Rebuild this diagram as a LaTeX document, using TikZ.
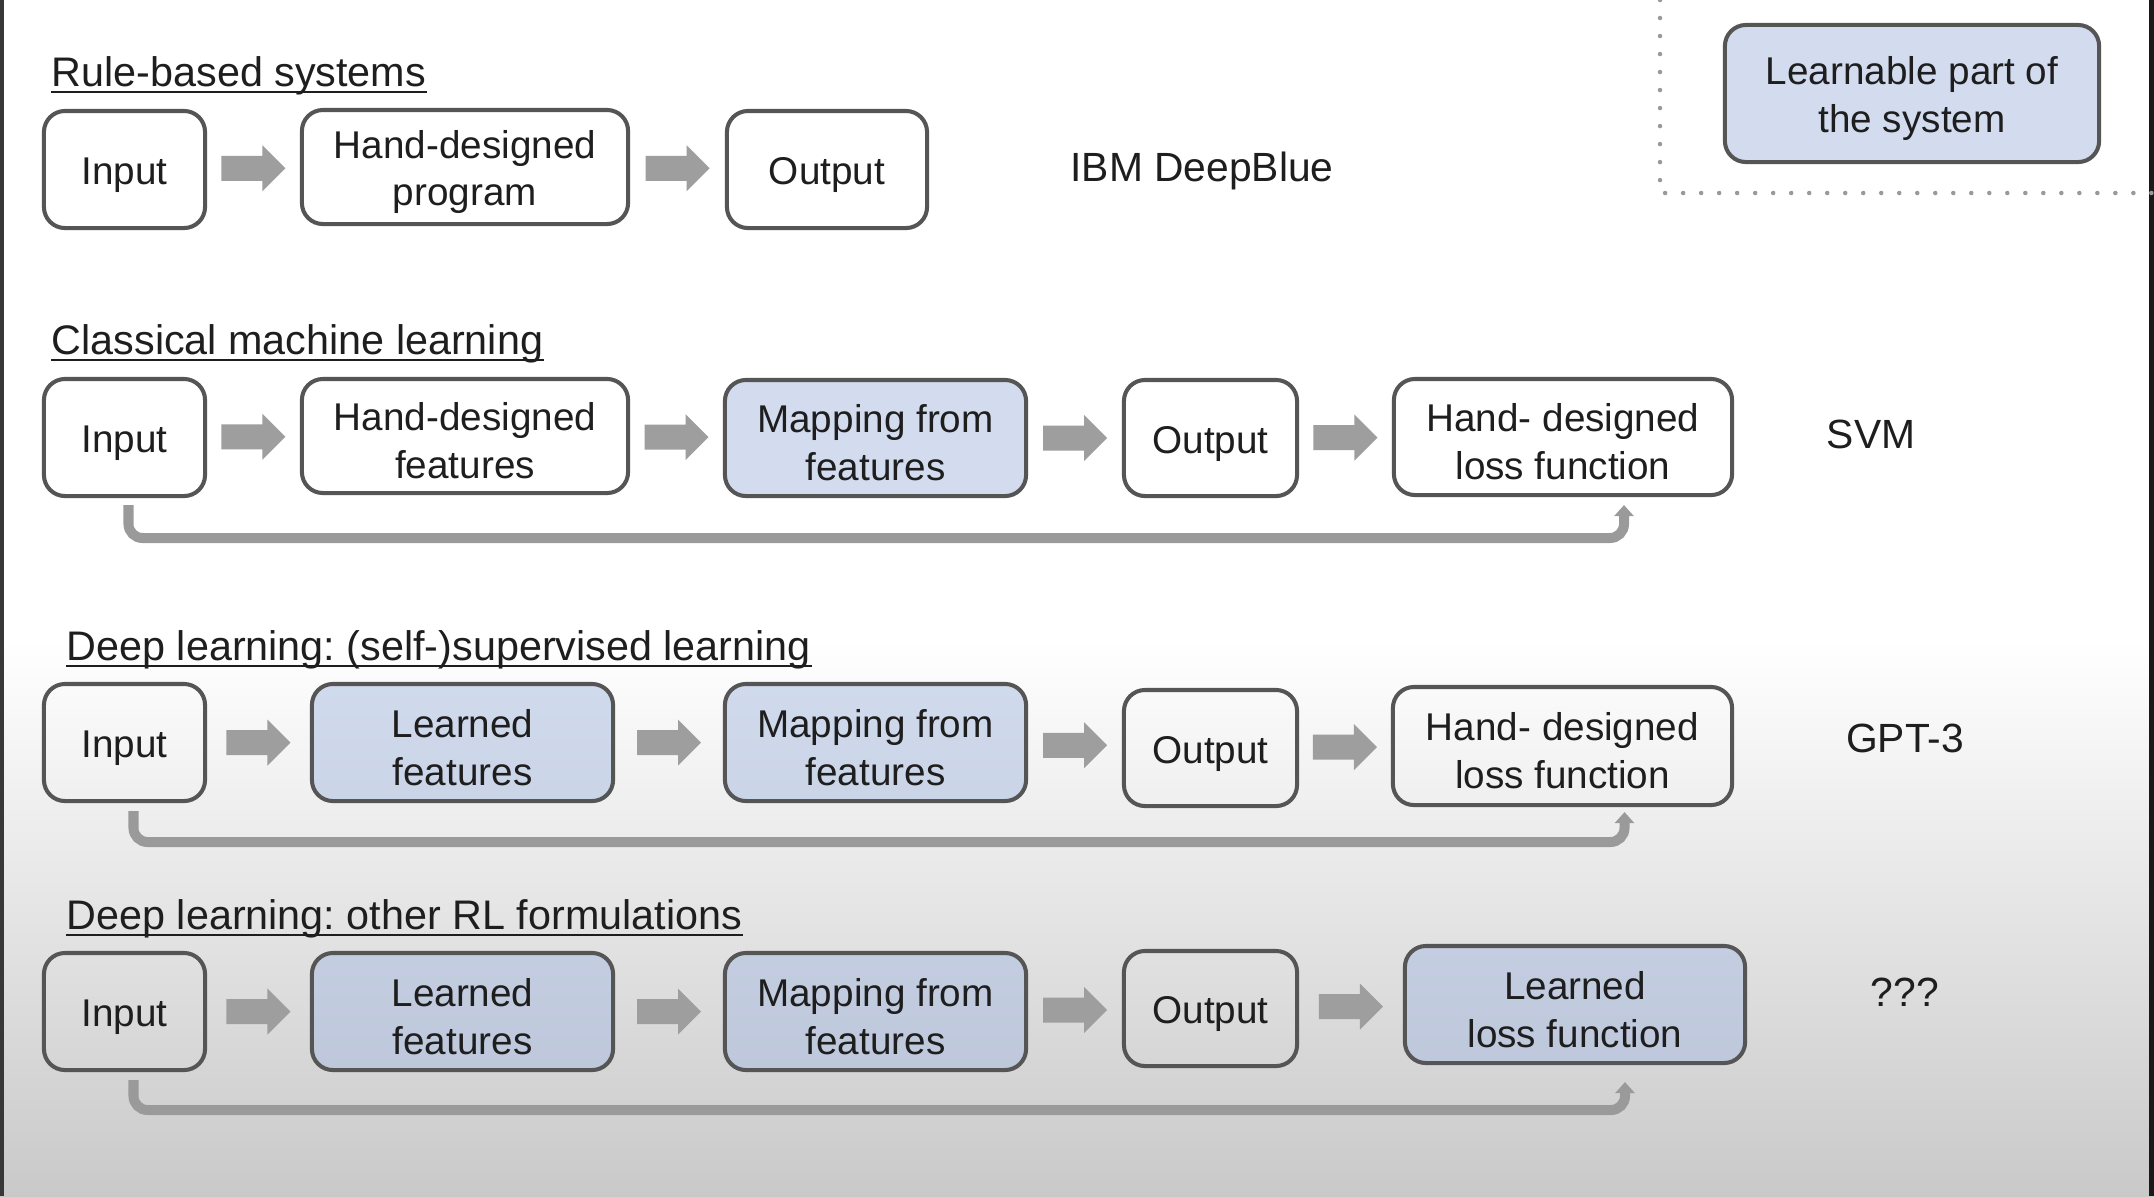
\documentclass[tikz,border=0pt]{standalone}
\usepackage{fontspec}
\setmainfont{Liberation Sans}
\usetikzlibrary{calc,arrows.meta}
\frenchspacing
\definecolor{edge}{HTML}{555555}
\definecolor{txt}{HTML}{1E1E1E}
\definecolor{lrn}{RGB}{168,187,225}
\definecolor{agray}{HTML}{9E9E9E}
\definecolor{fbgray}{HTML}{9A9A9A}
\definecolor{bggray}{HTML}{C9C9C9}
\newcommand{\boxfont}{\fontsize{11}{13.6}\selectfont\frenchspacing}
\newcommand{\titlefont}{\fontsize{11.75}{14}\selectfont\frenchspacing}
\newcommand{\lblfont}{\fontsize{11.6}{14}\selectfont}
\newcommand{\blockarr}[2]{%
  \path ($(#1.east)!0.5!(#2.west)$) coordinate (bm);
  \fill[agray] ($(bm)+(-32,-12.5)$) -- ($(bm)+(9,-12.5)$) -- ($(bm)+(9,-23)$) -- ($(bm)+(32,0)$)
     -- ($(bm)+(9,23)$) -- ($(bm)+(9,12.5)$) -- ($(bm)+(-32,12.5)$) -- cycle;}
\begin{document}
\begin{tikzpicture}[x=0.01cm,y=-0.01cm,
  box/.style={draw=edge, line width=1.15pt, rounded corners=0.21cm, align=center,
    inner sep=0pt, text=txt, font=\boxfont},
  one/.style={execute at begin node={\rule{0pt}{10.9pt}}},
  two/.style={execute at begin node={\rule{0pt}{24.4pt}}},
  lbox/.style={box, fill=lrn, fill opacity=0.5, text opacity=1, draw opacity=1},
  titletxt/.style={inner sep=0pt, anchor=base west, text=txt, font=\titlefont},
  uline/.style={draw=txt, line width=0.65pt},
  lbl/.style={inner sep=0pt, text=txt, font=\lblfont},
  fb/.style={draw=fbgray, line width=0.1cm, rounded corners=0.14cm,
    -{Triangle[width=0.19cm,length=0.11cm]}},
  dots/.style={draw=gray!80, line width=0.045cm, line cap=round, dash pattern=on 0pt off 0.18cm}]
\useasboundingbox (0,0) rectangle (2154,1196);
% background
\fill[white] (0,0) rectangle (2154,1196);
\shade[top color=white, bottom color=bggray] (0,640) rectangle (2154,1196);
\fill[black!78] (0,0) rectangle (4,1196);
\fill[black!90] (2149,0) rectangle (2154,1196);

% legend
\draw[dots] (1660,0) -- (1660,193) -- (2154,193);
\node[lbox, two, minimum width=3.74cm, minimum height=1.37cm] (leg) at (1912,93.5) {Learnable part of\\the system};

% ---------- Row 1
\node[titletxt] (t1) at (51,86) {Rule-based systems};
\draw[uline] ($(t1.base west)+(0,6)$) -- ($(t1.base east)+(0,6)$);
\node[box, one, minimum width=1.61cm, minimum height=1.17cm] (in1) at (124.5,169.5) {Input};
\node[box, two, minimum width=3.26cm, minimum height=1.14cm] (hp1) at (465,167) {Hand-designed\\program};
\node[box, one, minimum width=2.00cm, minimum height=1.17cm] (out1) at (827,169.5) {Output};
\node[lbl] (ibm) at (1202,171) {IBM DeepBlue};
\blockarr{in1}{hp1}
\blockarr{hp1}{out1}

% ---------- Row 2
\node[titletxt] (t2) at (51,354) {Classical machine learning};
\draw[uline] ($(t2.base west)+(0,6)$) -- ($(t2.base east)+(0,6)$);
\node[box, one, minimum width=1.61cm, minimum height=1.17cm] (in2) at (124.5,437.5) {Input};
\node[box, two, minimum width=3.26cm, minimum height=1.14cm] (hf2) at (465,436) {Hand-designed\\features};
\node[lbox, two, minimum width=3.01cm, minimum height=1.16cm] (mp2) at (875.5,438) {Mapping from\\features};
\node[box, one, minimum width=1.73cm, minimum height=1.16cm] (out2) at (1210.5,438) {Output};
\node[box, two, minimum width=3.38cm, minimum height=1.16cm] (loss2) at (1563,437) {Hand- designed\\loss function};
\node[lbl] (svm) at (1871,434) {SVM};
\blockarr{in2}{hf2}
\blockarr{hf2}{mp2}
\blockarr{mp2}{out2}
\blockarr{out2}{loss2}
\coordinate (tip2) at ($(loss2.south)+(61,8)$);
\coordinate (lvl2) at (0,538);
\draw[fb] ($(in2.south)+(4,7)$) |- (tip2 |- lvl2) -- (tip2);

% ---------- Row 3
\node[titletxt] (t3) at (66,660) {Deep learning: (self-)supervised learning};
\draw[uline] ($(t3.base west)+(0,6)$) -- ($(t3.base east)+(0,6)$);
\node[box, one, minimum width=1.61cm, minimum height=1.17cm] (in3) at (124.5,742.5) {Input};
\node[lbox, two, minimum width=3.01cm, minimum height=1.17cm] (lf3) at (462.5,742.5) {Learned\\features};
\node[lbox, two, minimum width=3.01cm, minimum height=1.17cm] (mp3) at (875.5,742.5) {Mapping from\\features};
\node[box, one, minimum width=1.73cm, minimum height=1.16cm] (out3) at (1210.5,748) {Output};
\node[box, two, minimum width=3.39cm, minimum height=1.18cm] (loss3) at (1562.5,746) {Hand- designed\\loss function};
\node[lbl] (gpt) at (1905,738) {GPT-3};
\blockarr{in3}{lf3}
\blockarr{lf3}{mp3}
\blockarr{mp3}{out3}
\blockarr{out3}{loss3}
\coordinate (tip3) at ($(loss3.south)+(62,5)$);
\coordinate (lvl3) at (0,842);
\draw[fb] ($(in3.south)+(9,8)$) |- (tip3 |- lvl3) -- (tip3);

% ---------- Row 4
\node[titletxt] (t4) at (66,929) {Deep learning: other RL formulations};
\draw[uline] ($(t4.base west)+(0,6)$) -- ($(t4.base east)+(0,6)$);
\node[box, one, minimum width=1.61cm, minimum height=1.17cm] (in4) at (124.5,1011.5) {Input};
\node[lbox, two, minimum width=3.01cm, minimum height=1.17cm] (lf4) at (462.5,1011.5) {Learned\\features};
\node[lbox, two, minimum width=3.01cm, minimum height=1.17cm] (mp4) at (875.5,1011.5) {Mapping from\\features};
\node[box, one, minimum width=1.73cm, minimum height=1.15cm] (out4) at (1210.5,1008.5) {Output};
\node[lbox, two, minimum width=3.40cm, minimum height=1.17cm] (loss4) at (1575,1004.5) {Learned\\loss function};
\node[lbl] (qqq) at (1905,992) {???};
\blockarr{in4}{lf4}
\blockarr{lf4}{mp4}
\blockarr{mp4}{out4}
\blockarr{out4}{loss4}
\coordinate (tip4) at ($(loss4.south)+(50,17)$);
\coordinate (lvl4) at (0,1110);
\draw[fb] ($(in4.south)+(9,8)$) |- (tip4 |- lvl4) -- (tip4);
\end{tikzpicture}
\end{document}
